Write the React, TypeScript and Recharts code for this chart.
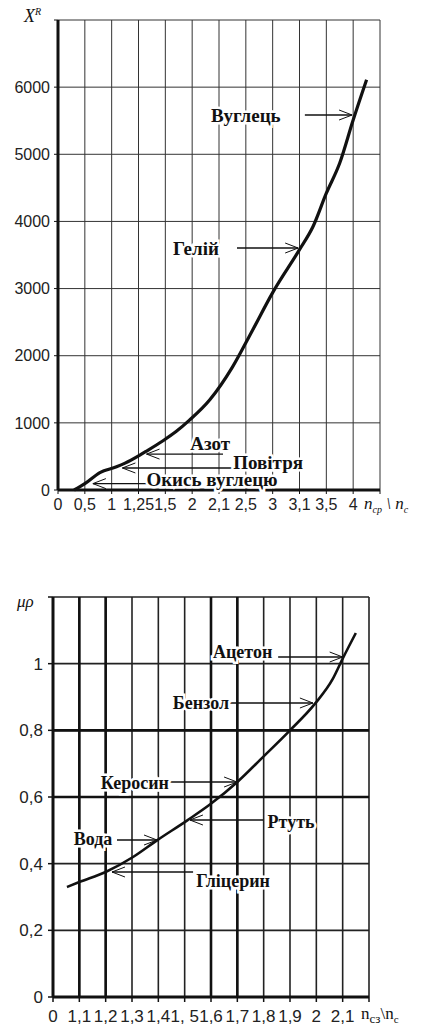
import { LineChart, Line, XAxis, YAxis, CartesianGrid, ReferenceLine, ReferenceDot } from 'recharts'

// upper chart: X^R against n_cp \ n_c (x axis is positional, 12 labelled steps)
const topTickLabels = ['0', '0,5', '1', '1,25', '1,5', '2', '2,1', '2,5', '3', '3,1', '3,5', '4']
const topYTicks = [0, 1000, 2000, 3000, 4000, 5000, 6000, 7000]
const topCurveX = [0.6, 1.0, 1.56, 2.18, 2.5, 3.05, 3.3, 3.9, 4.4, 4.9, 5.65, 6.5, 7.25, 8.0, 9.0, 9.5, 10.0, 10.5, 11.0, 11.5]
const topCurveY = [0, 95, 260, 345, 400, 520, 580, 730, 870, 1040, 1340, 1830, 2380, 2940, 3580, 3920, 4420, 4870, 5510, 6110]

const topNotes = [
  { text: 'Вуглець', tx: 7.0, ty: 5585, from: 9.2, to: 10.96, at: 5585 },
  { text: 'Гелій', tx: 5.14, ty: 3604, from: 6.67, to: 8.95, at: 3604 },
  { text: 'Азот', tx: 5.67, ty: 700, from: 6.15, to: 3.3, at: 535 },
  { text: 'Повітря', tx: 7.83, ty: 417, from: 8.0, to: 2.4, at: 328 },
  { text: 'Окись вуглецю', tx: 5.74, ty: 149, from: 5.4, to: 1.3, at: 95 },
]

// lower chart: μρ against n_сз \ n_c
const bottomTickLabels = ['0', '1,1', '1,2', '1,3', '1,4', '1, 5', '1,6', '1,7', '1,8', '1,9', '2', '2,1']
const bottomYTicks = [0, 0.2, 0.4, 0.6, 0.8, 1, 1.2]
const bottomCurveX = [0.53, 1.0, 2.0, 3.04, 3.95, 5.1, 5.97, 7.0, 8.0, 9.0, 9.95, 10.63, 11.0, 11.5]
const bottomCurveY = [0.33, 0.345, 0.375, 0.42, 0.47, 0.53, 0.578, 0.645, 0.722, 0.8, 0.88, 0.955, 1.015, 1.092]

const bottomNotes = [
  { text: 'Ацетон', tx: 7.2, ty: 1.035, from: 8.55, to: 11.0, at: 1.02 },
  { text: 'Бензол', tx: 5.62, ty: 0.882, from: 6.72, to: 9.87, at: 0.882 },
  { text: 'Керосин', tx: 3.11, ty: 0.642, from: 4.37, to: 6.99, at: 0.645 },
  { text: 'Вода', tx: 1.52, ty: 0.474, from: 2.43, to: 3.95, at: 0.471 },
  { text: 'Ртуть', tx: 9.04, ty: 0.525, from: 7.98, to: 5.2, at: 0.531 },
  { text: 'Гліцерин', tx: 6.84, ty: 0.348, from: 5.32, to: 2.24, at: 0.375 },
]
const bottomThickX = [1, 2, 6, 7]
const bottomThickY = [0.6, 0.8]

const steps = [0, 1, 2, 3, 4, 5, 6, 7, 8, 9, 10, 11, 12]
const INK = '#111'

const topData = topCurveX.map((x, i) => ({ x, y: topCurveY[i] }))
const bottomData = bottomCurveX.map((x, i) => ({ x, y: bottomCurveY[i] }))

const Arrow = (props: any) => {
  const { x1, y1, x2, y2 } = props
  const dir = x2 > x1 ? 1 : -1
  return (
    <g stroke={INK} fill="none">
      <line x1={x1} y1={y1} x2={x2} y2={y2} strokeWidth={1.3} />
      <path d={`M${x2 - dir * 13},${y2 - 5} L${x2},${y2} L${x2 - dir * 13},${y2 + 5}`} strokeWidth={1} />
    </g>
  )
}

const noteLabel = (text: string, size: number) => (props: any) => (
  <text
    x={props.cx}
    y={props.cy}
    textAnchor="middle"
    dominantBaseline="central"
    fontFamily="'Liberation Serif', serif"
    fontWeight="bold"
    fontSize={size}
    fill={INK}
    stroke="#fff"
    strokeWidth={5}
    paintOrder="stroke"
  >
    {text}
  </text>
)

const tickStyle = (size: number) => ({ fontSize: size, fill: '#222', fontFamily: "'Liberation Sans', Arial, sans-serif" })

function TopChart() {
  return (
    <LineChart width={422} height={530} data={topData} margin={{ top: 20, right: 42, left: 0, bottom: 0 }}>
      <CartesianGrid stroke="#333" strokeWidth={1} horizontal vertical />
      <XAxis
        type="number"
        dataKey="x"
        domain={[0, 12]}
        ticks={steps}
        interval={0}
        height={40}
        tickFormatter={(v: number) => topTickLabels[v] ?? ''}
        tick={tickStyle(16)}
        tickSize={4}
        tickMargin={5}
        axisLine={{ stroke: INK, strokeWidth: 3 }}
        tickLine={{ stroke: INK }}
      />
      <YAxis
        type="number"
        domain={[0, 7000]}
        ticks={topYTicks}
        interval={0}
        width={58}
        tickFormatter={(v: number) => (v === 7000 ? '' : String(v))}
        tick={tickStyle(16)}
        tickSize={4}
        tickMargin={4}
        axisLine={{ stroke: INK, strokeWidth: 3 }}
        tickLine={{ stroke: INK }}
      />
      {topNotes.map((n) => (
        <ReferenceLine
          key={'a' + n.text}
          segment={[{ x: n.from, y: n.at }, { x: n.to, y: n.at }]}
          shape={Arrow}
        />
      ))}
      {topNotes.map((n) => (
        <ReferenceDot key={'t' + n.text} x={n.tx} y={n.ty} r={1} shape={noteLabel(n.text, 19)} />
      ))}
      <Line type="monotone" dataKey="y" stroke={INK} strokeWidth={3.2} dot={false} isAnimationActive={false} />
    </LineChart>
  )
}

function BottomChart() {
  return (
    <LineChart width={422} height={470} data={bottomData} margin={{ top: 37, right: 53, left: 0, bottom: 0 }}>
      <CartesianGrid stroke="#222" strokeWidth={1.6} horizontal vertical />
      {bottomThickX.map((v) => (
        <ReferenceLine key={'vx' + v} x={v} stroke={INK} strokeWidth={2.6} />
      ))}
      {bottomThickY.map((v) => (
        <ReferenceLine key={'hy' + v} y={v} stroke={INK} strokeWidth={2.6} />
      ))}
      <XAxis
        type="number"
        dataKey="x"
        domain={[0, 12]}
        ticks={steps}
        interval={0}
        height={33}
        tickFormatter={(v: number) => bottomTickLabels[v] ?? ''}
        tick={tickStyle(17)}
        tickSize={5}
        tickMargin={8}
        axisLine={{ stroke: INK, strokeWidth: 3 }}
        tickLine={{ stroke: INK, strokeWidth: 1.5 }}
      />
      <YAxis
        type="number"
        domain={[0, 1.2]}
        ticks={bottomYTicks}
        interval={0}
        width={53}
        tickFormatter={(v: number) => (v === 1.2 ? '' : String(v).replace('.', ','))}
        tick={tickStyle(17)}
        tickSize={5}
        tickMargin={5}
        axisLine={{ stroke: INK, strokeWidth: 3 }}
        tickLine={{ stroke: INK, strokeWidth: 1.5 }}
      />
      {bottomNotes.map((n) => (
        <ReferenceLine
          key={'a' + n.text}
          segment={[{ x: n.from, y: n.at }, { x: n.to, y: n.at }]}
          shape={Arrow}
        />
      ))}
      {bottomNotes.map((n) => (
        <ReferenceDot key={'t' + n.text} x={n.tx} y={n.ty} r={1} shape={noteLabel(n.text, 18)} />
      ))}
      <Line type="monotone" dataKey="y" stroke={INK} strokeWidth={2.6} dot={false} isAnimationActive={false} />
    </LineChart>
  )
}

const serif = "'Liberation Serif', 'Times New Roman', serif"

export default function App() {
  return (
    <div style={{ position: 'absolute', left: 0, top: 0, width: 422, height: 1030, background: '#fff', overflow: 'hidden' }}>
      <div style={{ position: 'absolute', left: 0, top: 0 }}>
        <TopChart />
      </div>
      <div style={{ position: 'absolute', left: 0, top: 560 }}>
        <BottomChart />
      </div>
      {/* axis titles */}
      <div style={{ position: 'absolute', left: 24, top: 6, fontFamily: serif, fontStyle: 'italic', fontSize: 18, color: INK }}>
        X<sup style={{ fontSize: 10 }}>R</sup>
      </div>
      <div style={{ position: 'absolute', left: 364, top: 494, fontFamily: serif, fontStyle: 'italic', fontSize: 17, color: INK, whiteSpace: 'nowrap' }}>
        n<sub style={{ fontSize: 10 }}>cp</sub> \ n<sub style={{ fontSize: 10 }}>c</sub>
      </div>
      <div style={{ position: 'absolute', left: 17, top: 592, fontFamily: serif, fontStyle: 'italic', fontSize: 17, color: INK }}>
        μρ
      </div>
      <div style={{ position: 'absolute', left: 361, top: 1004, fontFamily: serif, fontSize: 17, color: INK, whiteSpace: 'nowrap' }}>
        n<sub style={{ fontSize: 13 }}>cз</sub>\n<sub style={{ fontSize: 11 }}>c</sub>
      </div>
    </div>
  )
}
